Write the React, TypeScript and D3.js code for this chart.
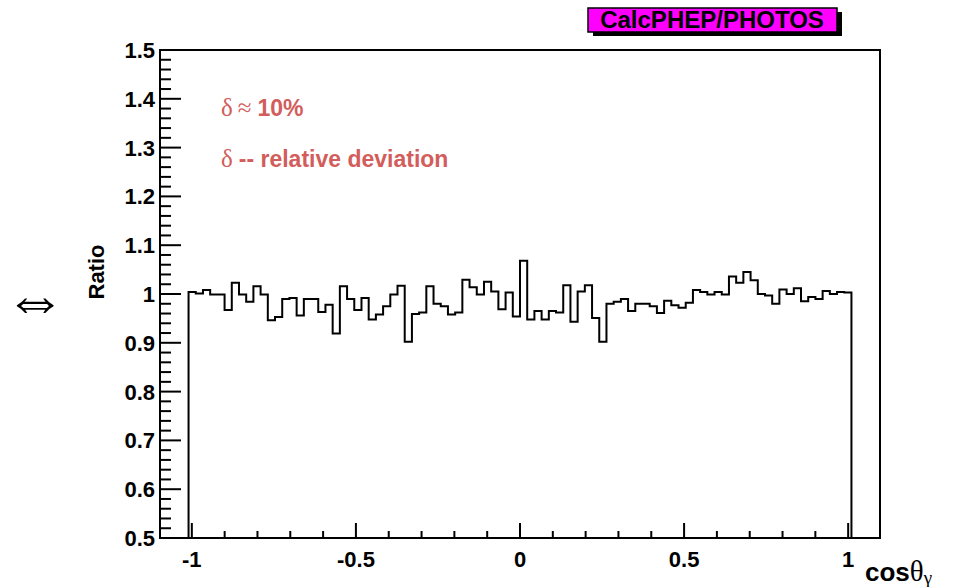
import React from "react";
import * as d3 from "d3";

// ---- data ----
const ratioValues: number[] = [
  1.004, 1.001, 1.008, 0.999, 0.999, 0.967, 1.023, 0.999, 0.984, 1.016,
  0.999, 0.946, 0.953, 0.990, 0.992, 0.956, 0.990, 0.990, 0.963, 0.978,
  0.919, 1.016, 0.990, 0.967, 0.992, 0.948, 0.958, 0.975, 0.999, 1.017,
  0.902, 0.959, 0.962, 1.016, 0.980, 0.975, 0.958, 0.962, 1.029, 1.014,
  0.999, 1.025, 1.005, 0.969, 1.003, 0.954, 1.068, 0.948, 0.965, 0.948,
  0.965, 0.962, 1.018, 0.943, 1.005, 1.018, 0.951, 0.902, 0.980, 0.984,
  0.990, 0.965, 0.980, 0.980, 0.975, 0.961, 0.986, 0.977, 0.972, 0.982,
  1.008, 1.004, 0.999, 1.004, 0.999, 1.036, 1.023, 1.045, 1.028, 1.000,
  0.997, 0.980, 1.009, 1.000, 1.012, 0.985, 0.994, 0.990, 1.006, 1.000,
  1.004, 1.003,
];
const histRange: [number, number] = [-1.01, 1.01];
const xDomain: [number, number] = [-1.097, 1.097];
const yDomain: [number, number] = [0.5, 1.5];
const xMajorTicks = [-1, -0.5, 0, 0.5, 1];
const xMinorTicks = [-0.9, -0.8, -0.7, -0.6, -0.4, -0.3, -0.2, -0.1, 0.1, 0.2, 0.3, 0.4, 0.6, 0.7, 0.8, 0.9];
const yMajorTicks = [0.5, 0.6, 0.7, 0.8, 0.9, 1.0, 1.1, 1.2, 1.3, 1.4, 1.5];
const titleText = "CalcPHEP/PHOTOS";
const yTitle = "Ratio";
const noteLines = ["≈", "10%", "-- relative deviation"];

const W = 955;
const H = 587;
const L = 160, R = 880, T = 50, B = 538;
const bold = "Liberation Sans, Arial, Helvetica, sans-serif";
const sym = "Liberation Serif, DejaVu Serif, serif";
const red = "#d25d5b";

export default function App() {
  const x = d3.scaleLinear().domain(xDomain).range([L, R]);
  const y = d3.scaleLinear().domain(yDomain).range([B, T]);

  const n = ratioValues.length;
  const bw = (histRange[1] - histRange[0]) / n;
  const pts: [number, number][] = [[histRange[0], yDomain[0]]];
  ratioValues.forEach((v, i) => {
    pts.push([histRange[0] + i * bw, v]);
    pts.push([histRange[0] + (i + 1) * bw, v]);
  });
  pts.push([histRange[1], yDomain[0]]);
  const line = d3.line<[number, number]>().x((d) => x(d[0])).y((d) => y(d[1]));

  const yMinor: number[] = d3
    .range(0, 51)
    .map((i) => 0.5 + i * 0.02)
    .filter((v) => Math.abs(Math.round(v * 10) - v * 10) > 1e-6);

  const fmtY = (v: number) => (Math.abs(v - 1) < 1e-9 ? "1" : v.toFixed(1));
  const fmtX = (v: number) => (v === 0 ? "0" : String(v));

  return (
    <svg width={W} height={H} style={{ position: "absolute", left: 0, top: 0, background: "#fff" }}>
      {/* frame */}
      <rect x={L} y={T} width={R - L} height={B - T} fill="none" stroke="#000" strokeWidth={2} />
      {/* y ticks */}
      {yMajorTicks.map((v) => (
        <g key={"ym" + v}>
          <line x1={L} x2={L + 21} y1={y(v)} y2={y(v)} stroke="#000" strokeWidth={2} />
          <text x={155} y={y(v)} dy="0.36em" textAnchor="end" fontFamily={bold} fontWeight="bold" fontSize={22}>
            {fmtY(v)}
          </text>
        </g>
      ))}
      {yMinor.map((v) => (
        <line key={"yn" + v} x1={L} x2={L + 11} y1={y(v)} y2={y(v)} stroke="#000" strokeWidth={2} />
      ))}
      {/* x ticks */}
      {xMajorTicks.map((v) => (
        <g key={"xm" + v}>
          <line x1={x(v)} x2={x(v)} y1={B} y2={B - 15} stroke="#000" strokeWidth={2} />
          <text x={x(v)} y={567} textAnchor="middle" fontFamily={bold} fontWeight="bold" fontSize={22}>
            {fmtX(v)}
          </text>
        </g>
      ))}
      {xMinorTicks.map((v) => (
        <line key={"xn" + v} x1={x(v)} x2={x(v)} y1={B} y2={B - 7} stroke="#000" strokeWidth={2} />
      ))}
      {/* histogram */}
      <path d={line(pts) || ""} fill="none" stroke="#000" strokeWidth={2} />
      {/* y title */}
      <text
        transform={`translate(104,272) rotate(-90)`}
        textAnchor="middle"
        fontFamily={bold}
        fontWeight="bold"
        fontSize={22}
      >
        {yTitle}
      </text>
      <text x={35} y={320} textAnchor="middle" fontFamily={sym} fontSize={62}>
        ⇔
      </text>
      {/* x title */}
      <text x={865} y={581} fontFamily={bold} fontWeight="bold" fontSize={26}>
        cos
        <tspan fontFamily={sym} fontWeight="normal" fontSize={29}>θ</tspan>
        <tspan fontFamily={sym} fontWeight="normal" fontSize={19} dy={3}>γ</tspan>
      </text>
      {/* notes */}
      <text x={221} y={116} fill={red} fontFamily={bold} fontWeight="bold" fontSize={23}>
        <tspan fontFamily={sym} fontWeight="normal" fontSize={25}>δ</tspan>
        <tspan fontFamily={sym} fontWeight="normal" fontSize={25} dx={5}>{noteLines[0]}</tspan>
        <tspan dx={6}>{noteLines[1]}</tspan>
      </text>
      <text x={221} y={167} fill={red} fontFamily={bold} fontWeight="bold" fontSize={23}>
        <tspan fontFamily={sym} fontWeight="normal" fontSize={25}>δ</tspan>
        <tspan dx={6}>{noteLines[2]}</tspan>
      </text>
      {/* title box */}
      <rect x={593} y={12} width={249} height={24} fill="#000" />
      <rect x={588} y={8} width={249} height={24} fill="#ff00ff" stroke="#000" strokeWidth={1.5} />
      <text x={712} y={28} textAnchor="middle" fontFamily={bold} fontWeight="bold" fontSize={24}>
        {titleText}
      </text>
    </svg>
  );
}
